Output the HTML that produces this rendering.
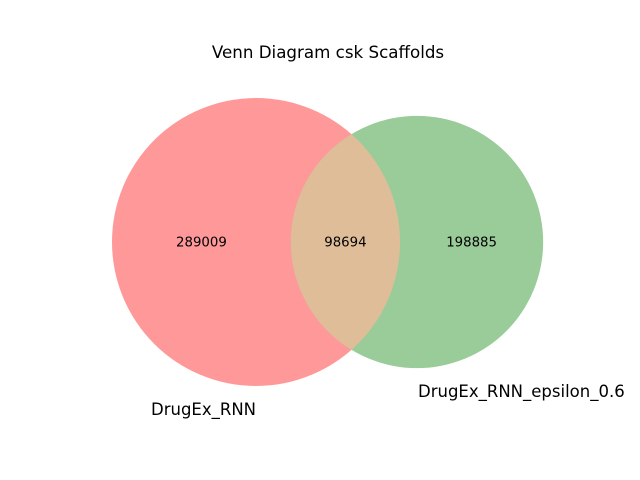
<!DOCTYPE html>
<html><head><meta charset="utf-8"><style>
html,body{margin:0;padding:0;background:#fff;}
svg{display:block;font-family:"DejaVu Sans","Liberation Sans",sans-serif;}
</style></head><body>
<svg id="chart" width="640" height="480" viewBox="0 0 640 480">
<text x="328" y="58" font-size="16.7" text-anchor="middle">Venn Diagram csk Scaffolds</text>
<defs><clipPath id="clipA"><circle id="clipCircle" cx="256" cy="242" r="144"/></clipPath></defs>
<g id="marks"></g>
</svg>
<script>
const setNames = ["DrugEx_RNN", "DrugEx_RNN_epsilon_0.6"];
const regionLabels = ["289009", "98694", "198885"];
const regionCounts = [289009, 98694, 198885];

const NS = "http://www.w3.org/2000/svg";
const g = document.getElementById('marks');
const totalA = regionCounts[0] + regionCounts[1];
const totalB = regionCounts[2] + regionCounts[1];
const k = 144 / Math.sqrt(387703);
const rA = k * Math.sqrt(totalA), rB = k * Math.sqrt(totalB);
const cy = 242, cxA = 256, cxB = cxA + 161;
document.getElementById('clipCircle').setAttribute('r', rA);
function mk(tag, attrs){const e=document.createElementNS(NS,tag);for(const a in attrs)e.setAttribute(a,attrs[a]);g.appendChild(e);return e;}
const a = mk('circle',{cx:cxA,cy:cy,r:rA,fill:'#ff9999'});


const b = mk('circle',{cx:cxB,cy:cy,r:rB,fill:'#99cc99'});


const o = mk('circle',{cx:cxB,cy:cy,r:rB,fill:'#e0bd99','clip-path':'url(#clipA)'});


const xs = [(cxA - rA + (cxB - rB)) / 2, ((cxB - rB) + (cxA + rA)) / 2, ((cxA + rA) + (cxB + rB)) / 2];
const names = ['label-only-a','label-overlap','label-only-b'];
for (let i=0;i<3;i++){
  const t = mk('text',{x:xs[i],y:cy+4.5,'font-size':13.3,'text-anchor':'middle'});
  t.textContent = regionLabels[i];
  
  
}
const s1 = mk('text',{x:151,y:415,'font-size':16.5});
s1.textContent = setNames[0];


const s2 = mk('text',{x:418,y:397,'font-size':16.5});
s2.textContent = setNames[1];


</script>
</body></html>
